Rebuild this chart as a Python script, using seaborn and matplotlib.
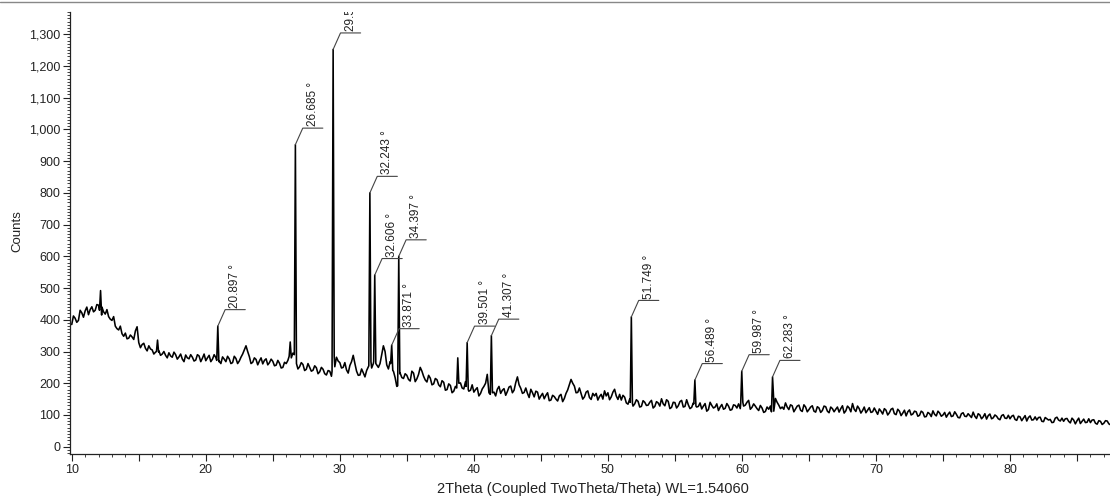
import numpy as np
import pandas as pd
import matplotlib
matplotlib.use("Agg")
import matplotlib.pyplot as plt
from matplotlib.lines import Line2D
from matplotlib.ticker import MultipleLocator, FuncFormatter
import seaborn as sns

# ---------------- data ----------------
# background scan, 0.25 deg steps starting at 10.0 deg 2Theta
bg_start = 10.0
bg_step = 0.25
bg_counts = [
    385, 405, 398, 422,   # 10
    428, 416, 441, 430,   # 11
    446, 440, 418, 410,   # 12
    398, 380, 368, 356,   # 13
    358, 342, 346, 365,   # 14
    328, 322, 310, 318,   # 15
    305, 298, 302, 292,   # 16
    288, 296, 282, 290,   # 17
    283, 276, 289, 277,   # 18
    282, 273, 286, 279,   # 19
    271, 288, 276, 281,   # 20
    270, 283, 268, 277,   # 21
    265, 278, 270, 292,   # 22
    318, 284, 266, 275,   # 23
    270, 261, 277, 265,   # 24
    269, 257, 263, 250,   # 25
    262, 285, 295, 262,   # 26
    252, 259, 244, 250,   # 27
    241, 249, 236, 244,   # 28
    226, 238, 240, 282,   # 29
    265, 250, 242, 256,   # 30
    288, 238, 226, 233,   # 31
    240, 255, 262, 258,   # 32
    262, 318, 258, 268,   # 33
    238, 190, 232, 215,   # 34
    225, 207, 232, 214,   # 35
    250, 222, 204, 216,   # 36
    198, 211, 189, 203,   # 37
    180, 193, 175, 186,   # 38
    201, 182, 192, 178,   # 39
    172, 186, 168, 190,   # 40
    228, 161, 172, 181,   # 41
    168, 183, 174, 191,   # 42
    178, 220, 184, 171,   # 43
    168, 181, 157, 172,   # 44
    160, 151, 170, 147,   # 45
    158, 144, 165, 152,   # 46
    179, 212, 191, 171,   # 47
    168, 157, 176, 149,   # 48
    160, 147, 165, 176,   # 49
    170, 157, 181, 149,   # 50
    147, 156, 134, 141,   # 51
    135, 143, 127, 140,   # 52
    131, 146, 127, 138,   # 53
    151, 129, 143, 124,   # 54
    139, 129, 146, 127,   # 55
    132, 124, 140, 127,   # 56
    119, 136, 117, 130,   # 57
    125, 114, 133, 121,   # 58
    128, 117, 130, 135,   # 59
    140, 131, 146, 124,   # 60
    128, 114, 122, 111,   # 61
    118, 107, 152, 131,   # 62
    125, 138, 117, 129,   # 63
    119, 131, 111, 125,   # 64
    117, 129, 109, 122,   # 65
    114, 126, 107, 120,   # 66
    118, 109, 129, 113,   # 67
    122, 136, 111, 120,   # 68
    114, 107, 123, 110,   # 69
    112, 119, 103, 115,   # 70
    107, 121, 101, 112,   # 71
    106, 97, 116, 103,    # 72
    110, 99, 108, 95,     # 73
    104, 113, 97, 106,    # 74
    100, 93, 109, 97,     # 75
    102, 91, 107, 95,     # 76
    98, 109, 89, 100,     # 77
    94, 87, 103, 91,      # 78
    96, 85, 101, 89,      # 79
    88, 99, 83, 94,       # 80
    90, 81, 97, 85,       # 81
    84, 93, 79, 88,       # 82
    86, 77, 93, 81,       # 83
    80, 89, 75, 84,       # 84
    82, 73, 87, 77,       # 85
    76, 85, 71, 80,       # 86
    74, 81, 69,           # 87
]
# readings half-way between the points above (x.125, x.375, x.625, x.875)
bg_counts_mid = [
    412, 392, 430, 408,   # 10
    440, 432, 425, 448,   # 11
    450, 425, 432, 402,   # 12
    410, 372, 380, 348,   # 13
    340, 352, 338, 378,   # 14
    312, 326, 302, 308,   # 15
    292, 310, 288, 300,   # 16
    280, 286, 298, 276,   # 17
    292, 268, 280, 290,   # 18
    270, 290, 268, 292,   # 19
    280, 268, 290, 266,   # 20
    262, 276, 285, 262,   # 21
    285, 262, 282, 305,   # 22
    300, 262, 280, 258,   # 23
    280, 272, 258, 276,   # 24
    255, 272, 248, 266,   # 25
    272, 300, 275, 245,   # 26
    265, 240, 262, 238,   # 27
    255, 230, 250, 230,   # 28
    240, 222, 252, 270,   # 29
    248, 265, 232, 268,   # 30
    262, 225, 245, 220,   # 31
    252, 248, 268, 250,   # 32
    290, 300, 245, 280,   # 33
    218, 200, 218, 230,   # 34
    212, 238, 205, 228,   # 35
    238, 210, 225, 195,   # 36
    215, 195, 208, 178,   # 37
    198, 170, 190, 200,   # 38
    185, 205, 175, 195,   # 39
    180, 160, 182, 200,   # 40
    170, 175, 160, 190,   # 41
    178, 162, 188, 170,   # 42
    202, 195, 168, 185,   # 43
    155, 170, 175, 150,   # 44
    168, 162, 145, 162,   # 45
    150, 160, 142, 168,   # 46
    195, 200, 170, 185,   # 47
    150, 172, 155, 168,   # 48
    168, 158, 150, 160,   # 49
    148, 172, 160, 165,   # 50
    162, 138, 150, 128,   # 51
    148, 125, 145, 130,   # 52
    140, 122, 142, 128,   # 53
    135, 148, 120, 140,   # 54
    122, 142, 125, 148,   # 55
    120, 138, 125, 138,   # 56
    128, 112, 140, 122,   # 57
    135, 125, 118, 136,   # 58
    115, 132, 122, 120,   # 59
    128, 140, 118, 135,   # 60
    120, 130, 108, 125,   # 61
    128, 112, 140, 120,   # 62
    118, 125, 132, 110,   # 63
    128, 115, 132, 110,   # 64
    125, 112, 126, 108,   # 65
    128, 112, 125, 110,   # 66
    125, 120, 106, 128,   # 67
    110, 118, 128, 106,   # 68
    125, 115, 108, 122,   # 69
    102, 112, 120, 100,   # 70
    118, 104, 118, 98,    # 71
    115, 110, 100, 112,   # 72
    96, 112, 94, 108,     # 73
    95, 102, 112, 96,     # 74
    108, 102, 95, 110,    # 75
    92, 104, 96, 104,     # 76
    92, 96, 104, 88,      # 77
    104, 98, 88, 100,     # 78
    88, 98, 90, 99,       # 79
    96, 86, 96, 82,       # 80
    98, 92, 84, 94,       # 81
    92, 80, 92, 84,       # 82
    76, 90, 84, 90,       # 83
    88, 80, 90, 72,       # 84
    90, 80, 76, 88,       # 85
    84, 74, 82, 70,       # 86
    82, 72,               # 87
]

# sharp reflections: position, apex counts, counts at left / right foot
peak_pos = [12.15, 16.40, 20.897, 26.30, 26.685, 29.501, 32.243, 32.606,
            33.871, 34.397, 38.80, 39.501, 41.307, 51.749, 56.489, 59.987, 62.283]
peak_top = [492, 336, 380, 330, 952, 1252, 800, 541,
            320, 600, 280, 328, 350, 409, 210, 238, 220]
peak_left = [430, 300, 272, 285, 290, 238, 255, 268,
             262, 192, 185, 190, 165, 140, 135, 135, 110]
peak_right = [415, 298, 268, 280, 262, 285, 268, 262,
              240, 230, 200, 180, 170, 137, 128, 140, 155]
peak_halfwidth = 0.08

# labelled reflections
label_pos = [20.897, 26.685, 29.501, 32.243, 32.606, 33.871, 34.397,
             39.501, 41.307, 51.749, 56.489, 59.987, 62.283]
label_text = ["20.897 °", "26.685 °", "29.501 °", "32.243 °", "32.606 °",
              "33.871 °", "34.397 °", "39.501 °", "41.307 °", "51.749 °",
              "56.489 °", "59.987 °", "62.283 °"]

# ---------------- assemble the profile ----------------
bg_x = np.concatenate([bg_start + bg_step * np.arange(len(bg_counts)),
                       bg_start + bg_step * (np.arange(len(bg_counts_mid)) + 0.5)])
bg_y = np.array(bg_counts + bg_counts_mid, dtype=float)
keep = np.ones(len(bg_x), dtype=bool)
for p in peak_pos:
    keep &= ~((bg_x >= p - peak_halfwidth) & (bg_x <= p + peak_halfwidth))
xs = list(bg_x[keep])
ys = list(bg_y[keep])
for p, t, l, r in zip(peak_pos, peak_top, peak_left, peak_right):
    xs += [p - peak_halfwidth, p, p + peak_halfwidth]
    ys += [l, t, r]
df = pd.DataFrame({"two_theta": xs, "counts": ys}).sort_values("two_theta")

# ---------------- figure ----------------
sns.set_theme(style="ticks")
plt.rcParams["font.family"] = ["Liberation Sans", "DejaVu Sans"]

fig = plt.figure(figsize=(11.1, 4.99), dpi=100)
ax = fig.add_axes([70 / 1110, 45 / 499, 1040 / 1110, 442 / 499])

sns.lineplot(data=df, x="two_theta", y="counts", ax=ax, color="black",
             linewidth=1.15, estimator=None, sort=False)

ax.set_xlim(9.87, 87.46)
ax.set_ylim(-23, 1370)

# axes styling
for s in ["top", "right"]:
    ax.spines[s].set_visible(False)
for s in ["left", "bottom"]:
    ax.spines[s].set_color("#222222")
    ax.spines[s].set_linewidth(0.9)

ax.xaxis.set_major_locator(MultipleLocator(5))
ax.xaxis.set_minor_locator(MultipleLocator(1))
ax.xaxis.set_major_formatter(FuncFormatter(lambda v, p: f"{int(round(v))}" if round(v) % 10 == 0 else ""))
ax.yaxis.set_major_locator(MultipleLocator(100))
ax.yaxis.set_minor_locator(MultipleLocator(10))
ax.yaxis.set_major_formatter(FuncFormatter(lambda v, p: f"{int(round(v)):,}"))
ax.tick_params(axis="both", which="major", direction="out", length=5, width=0.8,
               color="#222222", labelsize=9, labelcolor="#222222", pad=2)
ax.tick_params(axis="both", which="minor", direction="out", length=2.5, width=0.6,
               color="#222222")

ax.set_ylabel("Counts", fontsize=9.5, color="#222222")
ax.yaxis.set_label_coords(-0.045, 0.505)
ax.set_xlabel("2Theta (Coupled TwoTheta/Theta) WL=1.54060", fontsize=10.5, color="#222222")
ax.xaxis.set_label_coords(0.503, -0.063)

# peak labels with leader lines
top_of = dict(zip(peak_pos, peak_top))
dx, dy, w = 0.55, 52, 1.5
for p, txt in zip(label_pos, label_text):
    t = top_of[p]
    ax.plot([p, p + dx, p + dx + w], [t, t + dy, t + dy], color="#444444",
            linewidth=0.8, clip_on=True)
    ax.text(p + dx + w * 0.5, t + dy + 6, txt, rotation=90, ha="center",
            va="bottom", fontsize=8.5, color="#222222", clip_on=True)

# thin frame line at the very top of the figure
fig.add_artist(Line2D([0, 1], [0.996, 0.996], transform=fig.transFigure,
                      color="#888888", linewidth=1.0))

fig.savefig("out.png", dpi=100)
